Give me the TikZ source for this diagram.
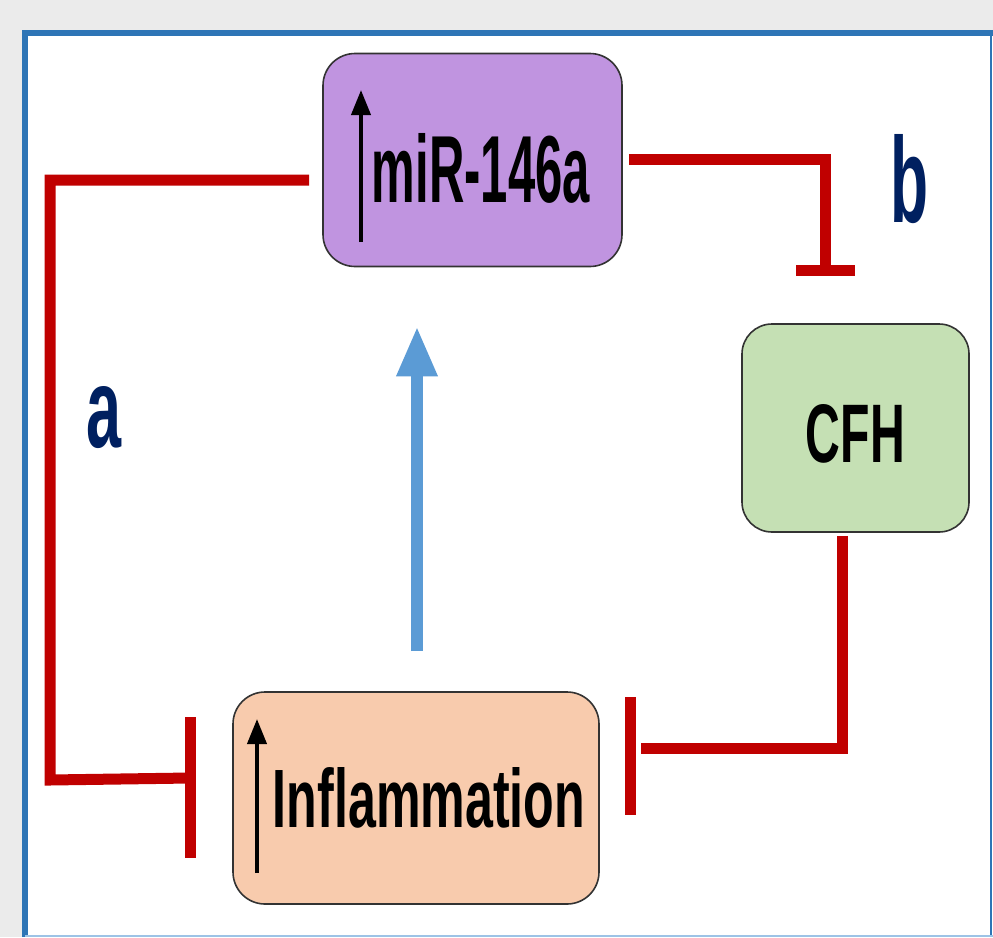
\documentclass[tikz,border=0pt]{standalone}
\usepackage{fontspec}
\setmainfont{Liberation Sans}
\usetikzlibrary{arrows.meta}
\definecolor{bg}{RGB}{235,235,235}
\definecolor{frameblue}{RGB}{46,117,182}
\definecolor{framelight}{RGB}{157,195,230}
\definecolor{inhred}{RGB}{192,0,0}
\definecolor{actblue}{RGB}{91,155,213}
\definecolor{mirfill}{RGB}{192,148,224}
\definecolor{inffill}{RGB}{248,203,173}
\definecolor{cfhfill}{RGB}{197,224,180}
\definecolor{navy}{RGB}{0,32,96}
\begin{document}
\begin{tikzpicture}[x=1pt,y=-1pt,
 box/.style={draw=black!80, line width=1.6pt, rounded corners=32pt, inner sep=0pt},
 lbl/.style={inner sep=0pt, outer sep=0pt},
 inh/.style={draw=inhred, line width=11pt, line join=miter},
 actarrow/.style={draw=actblue, line width=12pt, -{Triangle[length=50pt,width=38pt]}},
 uparrow/.style={draw=black, line width=4pt, -{Triangle[length=25pt,width=19pt]}},
]
\useasboundingbox (0,0) rectangle (993,937);
% background and frame
\fill[bg] (0,0) rectangle (993,937);
\fill[white] (25,33) rectangle (993,937);
\draw[frameblue, line width=6pt] (25,937) -- (25,33) -- (993,33);
\draw[frameblue, line width=2.5pt] (991,33) -- (991,937);
\draw[framelight, line width=1.5pt] (25,936.2) -- (993,936.2);

% boxes
\node[box, fill=mirfill, minimum width=299pt, minimum height=213pt] (mir) at (472.5,160) {};
\node[box, fill=inffill, minimum width=366pt, minimum height=212pt] (inf) at (416,798) {};
\node[box, fill=cfhfill, minimum width=227pt, minimum height=208pt, rounded corners=30pt] (cfh) at (855.5,428) {};

% box texts
\node[lbl] (mirtext) at (481,168.5) {\resizebox{218pt}{69pt}{\bfseries miR-146a}};
\node[lbl] (inftext) at (429,798) {\resizebox{312pt}{60pt}{\bfseries Inflammation}};
\node[lbl] (cfhtext) at (855.5,434) {\resizebox{99pt}{58pt}{\bfseries CFH}};

% small up arrows inside boxes
\draw[uparrow] ([xshift=-111.5pt,yshift=-82pt]mir.center) -- ([xshift=-111.5pt,yshift=70pt]mir.center);
\draw[uparrow] ([xshift=-159pt,yshift=-75pt]inf.center) -- ([xshift=-159pt,yshift=79pt]inf.center);

% labels
\node[lbl, text=navy] (la) at (104.5,417.5) {\resizebox{35pt}{61pt}{\bfseries a}};
\node[lbl, text=navy] (lb) at (909,179) {\resizebox{38pt}{88pt}{\bfseries b}};

% inhibition a: miR-146a -| Inflammation
\coordinate (a1) at (50,180);
\coordinate (a2) at (50,780);
\coordinate (ta) at (190,778);
\draw[inh] ([xshift=-13pt,yshift=-20pt]mir.west) -- (a1) -- (a2) -- (ta);
\draw[inh] ([yshift=61pt]ta) -- ([yshift=-80pt]ta);

% inhibition b: miR-146a -| CFH
\coordinate (b1) at (825,159);
\coordinate (tb) at (825,270);
\draw[inh] ([xshift=6pt,yshift=1pt]mir.east) -- (b1) -- (tb);
\draw[inh] ([xshift=-29pt]tb) -- ([xshift=30pt]tb);

% inhibition CFH -| Inflammation
\coordinate (c1) at (842,748);
\coordinate (c2) at (641,748);
\coordinate (tc) at (630,756);
\draw[inh] ([xshift=-13.5pt,yshift=-3pt]cfh.south) -- (c1) -- (c2);
\draw[inh] ([yshift=59pt]tc) -- ([yshift=-59pt]tc);

% activation: Inflammation -> miR-146a
\draw[actarrow] ([xshift=1pt,yshift=40pt]inf.north) -- ([xshift=-55.5pt,yshift=-59pt]mir.south);
\end{tikzpicture}
\end{document}
